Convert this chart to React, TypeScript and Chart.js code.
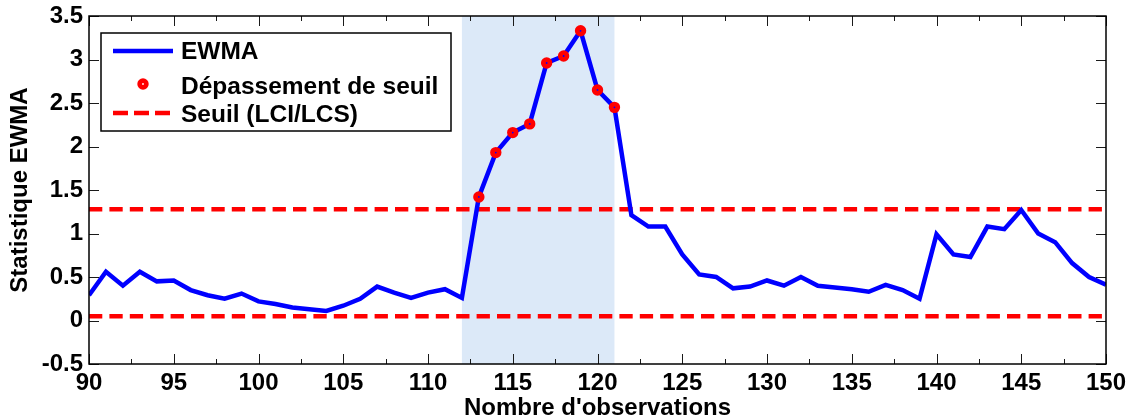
import React, { useEffect, useRef } from "react";
import { Chart, registerables } from "chart.js";

Chart.register(...registerables);

// ---------- data ----------
const OBSERVATIONS: number[] = [
  90, 91, 92, 93, 94, 95, 96, 97, 98, 99,
  100, 101, 102, 103, 104, 105, 106, 107, 108, 109,
  110, 111, 112, 113, 114, 115, 116, 117, 118, 119,
  120, 121, 122, 123, 124, 125, 126, 127, 128, 129,
  130, 131, 132, 133, 134, 135, 136, 137, 138, 139,
  140, 141, 142, 143, 144, 145, 146, 147, 148, 149, 150,
];
const EWMA_VALUES: number[] = [
  0.29, 0.56, 0.40, 0.56, 0.45, 0.46, 0.35, 0.29, 0.25, 0.31,
  0.22, 0.19, 0.15, 0.13, 0.11, 0.17, 0.25, 0.39, 0.32, 0.26,
  0.32, 0.36, 0.26, 1.42, 1.93, 2.16, 2.26, 2.96, 3.04, 3.33,
  2.65, 2.45, 1.21, 1.08, 1.08, 0.76, 0.53, 0.50, 0.37, 0.39,
  0.46, 0.40, 0.50, 0.40, 0.38, 0.36, 0.33, 0.41, 0.35, 0.25,
  0.99, 0.76, 0.73, 1.08, 1.05, 1.27, 1.00, 0.90, 0.66, 0.50, 0.41,
];
const EXCEEDANCE_OBS: number[] = [113, 114, 115, 116, 117, 118, 119, 120, 121];
const UCL = 1.28;
const LCL = 0.05;
const SHADE_START = 112;
const SHADE_END = 121;

const X_MIN = 90;
const X_MAX = 150;
const X_TICK_STEP = 2.5;
const X_LABEL_STEP = 5;
const Y_MIN = -0.5;
const Y_MAX = 3.5;
const Y_TICK_STEP = 0.5;

const LABEL_EWMA = "EWMA";
const LABEL_EXCEED = "Dépassement de seuil";
const LABEL_LIMIT = "Seuil (LCI/LCS)";
const X_TITLE = "Nombre d'observations";
const Y_TITLE = "Statistique EWMA";

// ---------- styles ----------
const FONT_FAMILY = '"Liberation Sans", Arial, Helvetica, sans-serif';
const FONT_SIZE = 24;
const LEGEND_FONT_SIZE = 24.5;
const BLUE = "#0000ff";
const RED = "#ff0000";
const SHADE_COLOR = "#dce9f8";
const LIMIT_DASH = [13.3, 7.1];

const shadePlugin = {
  id: "shadeBand",
  beforeDatasetsDraw(chart: any) {
    const { ctx, chartArea, scales } = chart;
    const x0 = scales.x.getPixelForValue(SHADE_START);
    const x1 = scales.x.getPixelForValue(SHADE_END);
    ctx.save();
    ctx.fillStyle = SHADE_COLOR;
    ctx.fillRect(x0, chartArea.top, x1 - x0, chartArea.bottom - chartArea.top);
    ctx.restore();
  },
};

const framePlugin = {
  id: "matlabFrame",
  afterDatasetsDraw(chart: any) {
    const { ctx, chartArea, scales } = chart;
    const { left, right, top, bottom } = chartArea;
    ctx.save();
    ctx.strokeStyle = "#1a1a1a";
    ctx.lineWidth = 1;
    ctx.beginPath();
    scales.x.ticks.forEach((t: any) => {
      const px = Math.round(scales.x.getPixelForValue(t.value)) + 0.5;
      const len = Math.abs(t.value % X_LABEL_STEP) < 1e-9 ? 10 : 5;
      ctx.moveTo(px, bottom);
      ctx.lineTo(px, bottom - len);
      ctx.moveTo(px, top);
      ctx.lineTo(px, top + len);
    });
    scales.y.ticks.forEach((t: any) => {
      const py = Math.round(scales.y.getPixelForValue(t.value)) + 0.5;
      ctx.moveTo(left, py);
      ctx.lineTo(left + 10, py);
      ctx.moveTo(right, py);
      ctx.lineTo(right - 10, py);
    });
    ctx.stroke();
    ctx.lineWidth = 1.5;
    ctx.strokeStyle = "#000";
    ctx.strokeRect(left, top, right - left, bottom - top);
    ctx.restore();
  },
};

const legendPlugin = {
  id: "matlabLegend",
  afterDraw(chart: any) {
    const { ctx, chartArea } = chart;
    const bx = chartArea.left + 12;
    const by = chartArea.top + 17;
    const bw = 350;
    const bh = 98;
    ctx.save();
    ctx.fillStyle = "#fff";
    ctx.fillRect(bx, by, bw, bh);
    ctx.strokeStyle = "#000";
    ctx.lineWidth = 1.5;
    ctx.strokeRect(bx, by, bw, bh);

    const lx0 = bx + 12;
    const lx1 = bx + 72;
    // EWMA line
    ctx.strokeStyle = BLUE;
    ctx.lineWidth = 4.5;
    ctx.beginPath();
    ctx.moveTo(lx0, by + 18);
    ctx.lineTo(lx1, by + 18);
    ctx.stroke();
    // marker
    ctx.strokeStyle = RED;
    ctx.lineWidth = 4.8;
    ctx.beginPath();
    ctx.arc(bx + 42, by + 51, 3.3, 0, Math.PI * 2);
    ctx.stroke();
    // dashed limit
    ctx.strokeStyle = RED;
    ctx.lineWidth = 4.5;
    ctx.setLineDash([15, 6]);
    ctx.beginPath();
    ctx.moveTo(lx0, by + 80);
    ctx.lineTo(bx + 69, by + 80);
    ctx.stroke();
    ctx.setLineDash([]);

    ctx.fillStyle = "#000";
    ctx.font = `bold ${LEGEND_FONT_SIZE}px ${FONT_FAMILY}`;
    ctx.textAlign = "left";
    ctx.textBaseline = "middle";
    const tx = bx + 80;
    ctx.fillText(LABEL_EWMA, tx, by + 19);
    ctx.fillText(LABEL_EXCEED, tx, by + 54);
    ctx.fillText(LABEL_LIMIT, tx, by + 82);
    ctx.restore();
  },
};

export default function App() {
  const canvasRef = useRef<HTMLCanvasElement | null>(null);

  useEffect(() => {
    const prevMargin = document.body.style.margin;
    document.body.style.margin = "0";
    const canvas = canvasRef.current;
    if (!canvas) return;

    const ewmaData = OBSERVATIONS.map((x, i) => ({ x, y: EWMA_VALUES[i] }));
    const exceedData = EXCEEDANCE_OBS.map((x) => ({
      x,
      y: EWMA_VALUES[OBSERVATIONS.indexOf(x)],
    }));
    const uclData = [
      { x: X_MIN, y: UCL },
      { x: X_MAX, y: UCL },
    ];
    const lclData = [
      { x: X_MIN, y: LCL },
      { x: X_MAX, y: LCL },
    ];

    const tickFont = { family: FONT_FAMILY, size: FONT_SIZE, weight: "bold" as const };
    const titleFont = { family: FONT_FAMILY, size: FONT_SIZE, weight: "bold" as const, lineHeight: 1 };

    const chart = new Chart(canvas, {
      type: "line",
      data: {
        datasets: [
          {
            label: LABEL_EXCEED,
            data: exceedData,
            showLine: false,
            pointRadius: 3.3,
            pointBorderWidth: 4.8,
            pointBorderColor: RED,
            pointBackgroundColor: "rgba(0,0,0,0)",
            pointStyle: "circle",
            order: 0,
          },
          {
            label: LABEL_EWMA,
            data: ewmaData,
            borderColor: BLUE,
            borderWidth: 4.5,
            pointRadius: 0,
            tension: 0,
            fill: false,
            order: 1,
          },
          {
            label: LABEL_LIMIT,
            data: uclData,
            borderColor: RED,
            borderWidth: 4.5,
            borderDash: LIMIT_DASH,
            pointRadius: 0,
            fill: false,
            order: 2,
          },
          {
            label: LABEL_LIMIT + " (LCI)",
            data: lclData,
            borderColor: RED,
            borderWidth: 4.5,
            borderDash: LIMIT_DASH,
            pointRadius: 0,
            fill: false,
            order: 2,
          },
        ],
      },
      options: {
        animation: false,
        responsive: false,
        maintainAspectRatio: false,
        events: [],
        layout: { padding: { top: 16, right: 29, left: 0, bottom: 0 } },
        plugins: {
          legend: { display: false },
          tooltip: { enabled: false },
        },
        scales: {
          x: {
            type: "linear",
            min: X_MIN,
            max: X_MAX,
            grid: { display: false, drawTicks: false },
            border: { display: false },
            ticks: {
              stepSize: X_TICK_STEP,
              autoSkip: false,
              maxRotation: 0,
              minRotation: 0,
              padding: 5,
              color: "#000",
              font: tickFont,
              callback: (v: any) =>
                Math.abs(Number(v) % X_LABEL_STEP) < 1e-9 ? String(v) : "",
            },
            title: {
              display: true,
              text: X_TITLE,
              color: "#000",
              font: titleFont,
              padding: { top: 0, bottom: 0 },
            },
            afterFit: (s: any) => {
              s.height = 56;
              s.paddingLeft = 0;
              s.paddingRight = 0;
            },
          },
          y: {
            type: "linear",
            min: Y_MIN,
            max: Y_MAX,
            grid: { display: false, drawTicks: false },
            border: { display: false },
            ticks: {
              stepSize: Y_TICK_STEP,
              padding: 6,
              color: "#000",
              font: tickFont,
              callback: (v: any) => String(v),
            },
            title: {
              display: true,
              text: Y_TITLE,
              color: "#000",
              font: titleFont,
              padding: { top: 8, bottom: 0 },
            },
            afterFit: (s: any) => {
              s.width = 89;
              s.paddingTop = 0;
              s.paddingBottom = 0;
            },
          },
        },
      },
      plugins: [shadePlugin, framePlugin, legendPlugin],
    });

    return () => {
      chart.destroy();
      document.body.style.margin = prevMargin;
    };
  }, []);

  return (
    <div style={{ position: "absolute", left: 0, top: 0, width: 1135, height: 420, background: "#fff" }}>
      <canvas ref={canvasRef} width={1135} height={420} style={{ width: 1135, height: 420, display: "block" }} />
    </div>
  );
}
